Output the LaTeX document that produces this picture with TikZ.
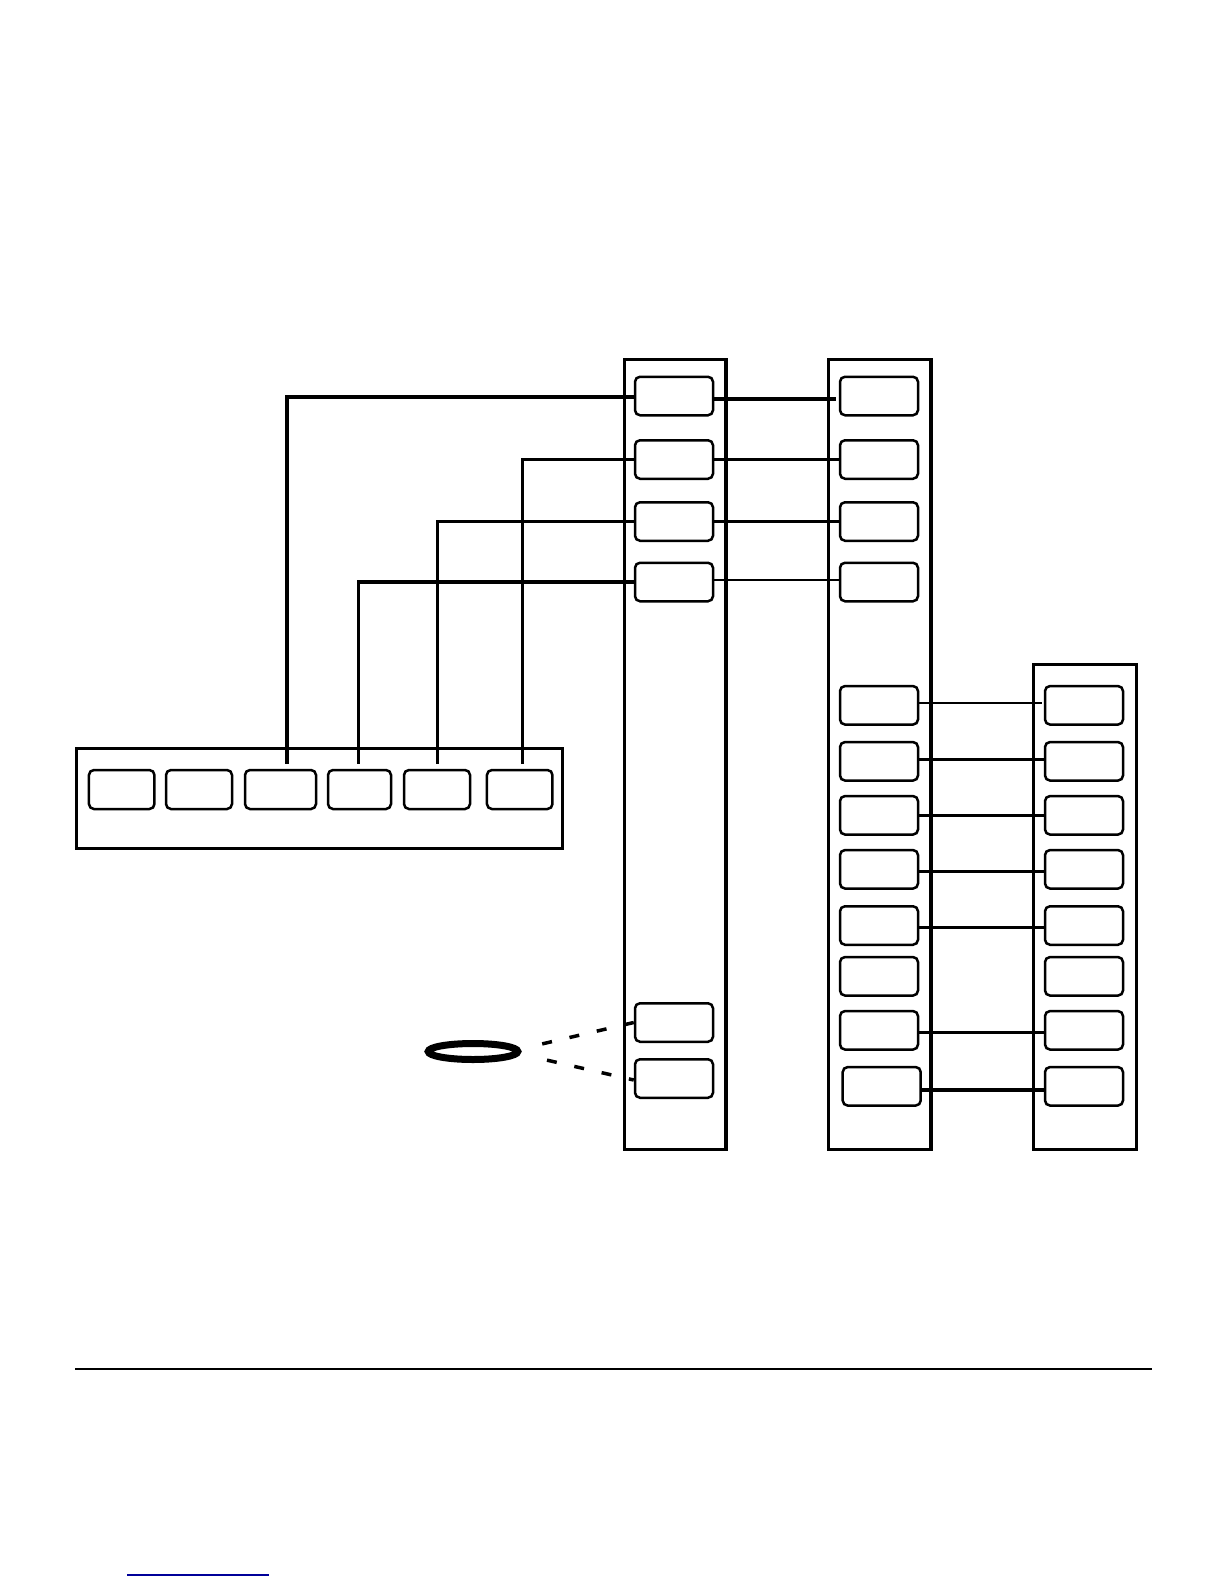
\documentclass[tikz,border=0pt]{standalone}
\usetikzlibrary{shapes.geometric}
\definecolor{linkblue}{RGB}{0,0,153}
\begin{document}
\begin{tikzpicture}[x=1pt,y=-1pt,
  frame/.style={draw,line width=3.5pt,rectangle,inner sep=0pt},
  cell/.style={draw,line width=2.5pt,rectangle,rounded corners=5pt,inner sep=0pt,minimum width=78pt,minimum height=38.5pt},
  wire/.style={line width=3.2pt},
  thinwire/.style={line width=2.2pt},
  dashwire/.style={line width=3.5pt,dash pattern=on 10pt off 18pt}]
\useasboundingbox (0,0) rectangle (1224,1584);
% frames
\node[frame,minimum width=101.6pt,minimum height=789.6pt] (fA) at (675.2,754.5) {};
\node[frame,minimum width=102.3pt,minimum height=789.6pt] (fB) at (879.8,754.5) {};
\node[frame,minimum width=102.6pt,minimum height=484.9pt] (fC) at (1085,906.8) {};
\node[frame,minimum width=485.6pt,minimum height=99.9pt] (fD) at (319.5,798.3) {};
% column 1 cells
\node[cell] (a1) at (674,396) {};
\node[cell] (a2) at (674,459.5) {};
\node[cell] (a3) at (674,521.5) {};
\node[cell] (a4) at (674,582) {};
\node[cell] (aA) at (674,1022.5) {};
\node[cell] (aB) at (674,1078.5) {};
% column 2 top cells
\node[cell] (b1) at (879,396) {};
\node[cell] (b2) at (879,459.5) {};
\node[cell] (b3) at (879,521.5) {};
\node[cell] (b4) at (879,582) {};
% column 2 lower cells
\node[cell] (l1) at (879,705.3) {};
\node[cell] (l2) at (879,761.3) {};
\node[cell] (l3) at (879,815.3) {};
\node[cell] (l4) at (879,869.3) {};
\node[cell] (l5) at (879,925.5) {};
\node[cell] (l6) at (879,976.3) {};
\node[cell] (l7) at (879,1030.3) {};
\node[cell] (l8) at (881.7,1086.3) {};
% column 3 cells
\node[cell] (r1) at (1084,705.3) {};
\node[cell] (r2) at (1084,761.3) {};
\node[cell] (r3) at (1084,815.3) {};
\node[cell] (r4) at (1084,869.3) {};
\node[cell] (r5) at (1084,925.5) {};
\node[cell] (r6) at (1084,976.3) {};
\node[cell] (r7) at (1084,1030.3) {};
\node[cell] (r8) at (1084,1086.3) {};
% bottom-left cells
\node[cell,minimum width=65.5pt,minimum height=39pt] (d1) at (121.7,789.5) {};
\node[cell,minimum width=66pt,minimum height=39pt] (d2) at (199,789.5) {};
\node[cell,minimum width=71pt,minimum height=39pt] (d3) at (280.5,789.5) {};
\node[cell,minimum width=63pt,minimum height=39pt] (d4) at (359.5,789.5) {};
\node[cell,minimum width=66pt,minimum height=39pt] (d5) at (437,789.5) {};
\node[cell,minimum width=65.5pt,minimum height=39pt] (d6) at (519.7,789.5) {};
% ring
\node[draw,ellipse,line width=7pt,inner sep=0pt,minimum width=89.6pt,minimum height=16pt] (ring) at (473,1051.5) {};
% connectors from column 1 to bottom-left cells
\draw[wire] ([yshift=-1pt]a1.west) -| ([xshift=6.5pt,yshift=5pt]d3.north);
\draw[wire] (a2.west) -| ([xshift=3pt,yshift=5pt]d6.north);
\draw[wire] (a3.west) -| ([xshift=0.7pt,yshift=5pt]d5.north);
\draw[wire] (a4.west) -| ([xshift=-1pt,yshift=5pt]d4.north);
% column 1 to column 2
\draw[wire] ([yshift=-3pt]a1.east) -- ([xshift=-3pt,yshift=-3pt]b1.west);
\draw[wire] (a2.east) -- (b2.west);
\draw[wire] (a3.east) -- (b3.west);
\draw[thinwire] ([yshift=2pt]a4.east) -- ([yshift=2pt]b4.west);
% column 2 to column 3
\draw[thinwire] ([yshift=2pt]l1.east) -- ([xshift=-2pt,yshift=2pt]r1.west);
\draw[wire] ([yshift=2pt]l2.east) -- ([yshift=2pt]r2.west);
\draw[wire] (l3.east) -- (r3.west);
\draw[wire] ([yshift=-2pt]l4.east) -- ([yshift=-2pt]r4.west);
\draw[wire] ([yshift=-2pt]l5.east) -- ([yshift=-2pt]r5.west);
\draw[wire] ([yshift=-2.4pt]l7.east) -- ([yshift=-2.4pt]r7.west);
\draw[wire] ([yshift=-3.7pt]l8.east) -- ([yshift=-3.7pt]r8.west);
% dashed links from ring
\draw[dashwire] (aA.west) -- ([xshift=14pt,yshift=6pt]ring.east);
\draw[dashwire,dash phase=5pt] ([yshift=-1.5pt]aB.west) -- ([xshift=12pt,yshift=-5.5pt]ring.east);
% rule lines
\coordinate (hl) at (75,1368.7);
\coordinate (hr) at (1152,1368.7);
\draw[line width=2pt] (hl) -- (hr);
\coordinate (bl) at (127,1575);
\coordinate (br) at (269,1575);
\draw[linkblue,line width=1.4pt] (bl) -- (br);
\end{tikzpicture}
\end{document}
